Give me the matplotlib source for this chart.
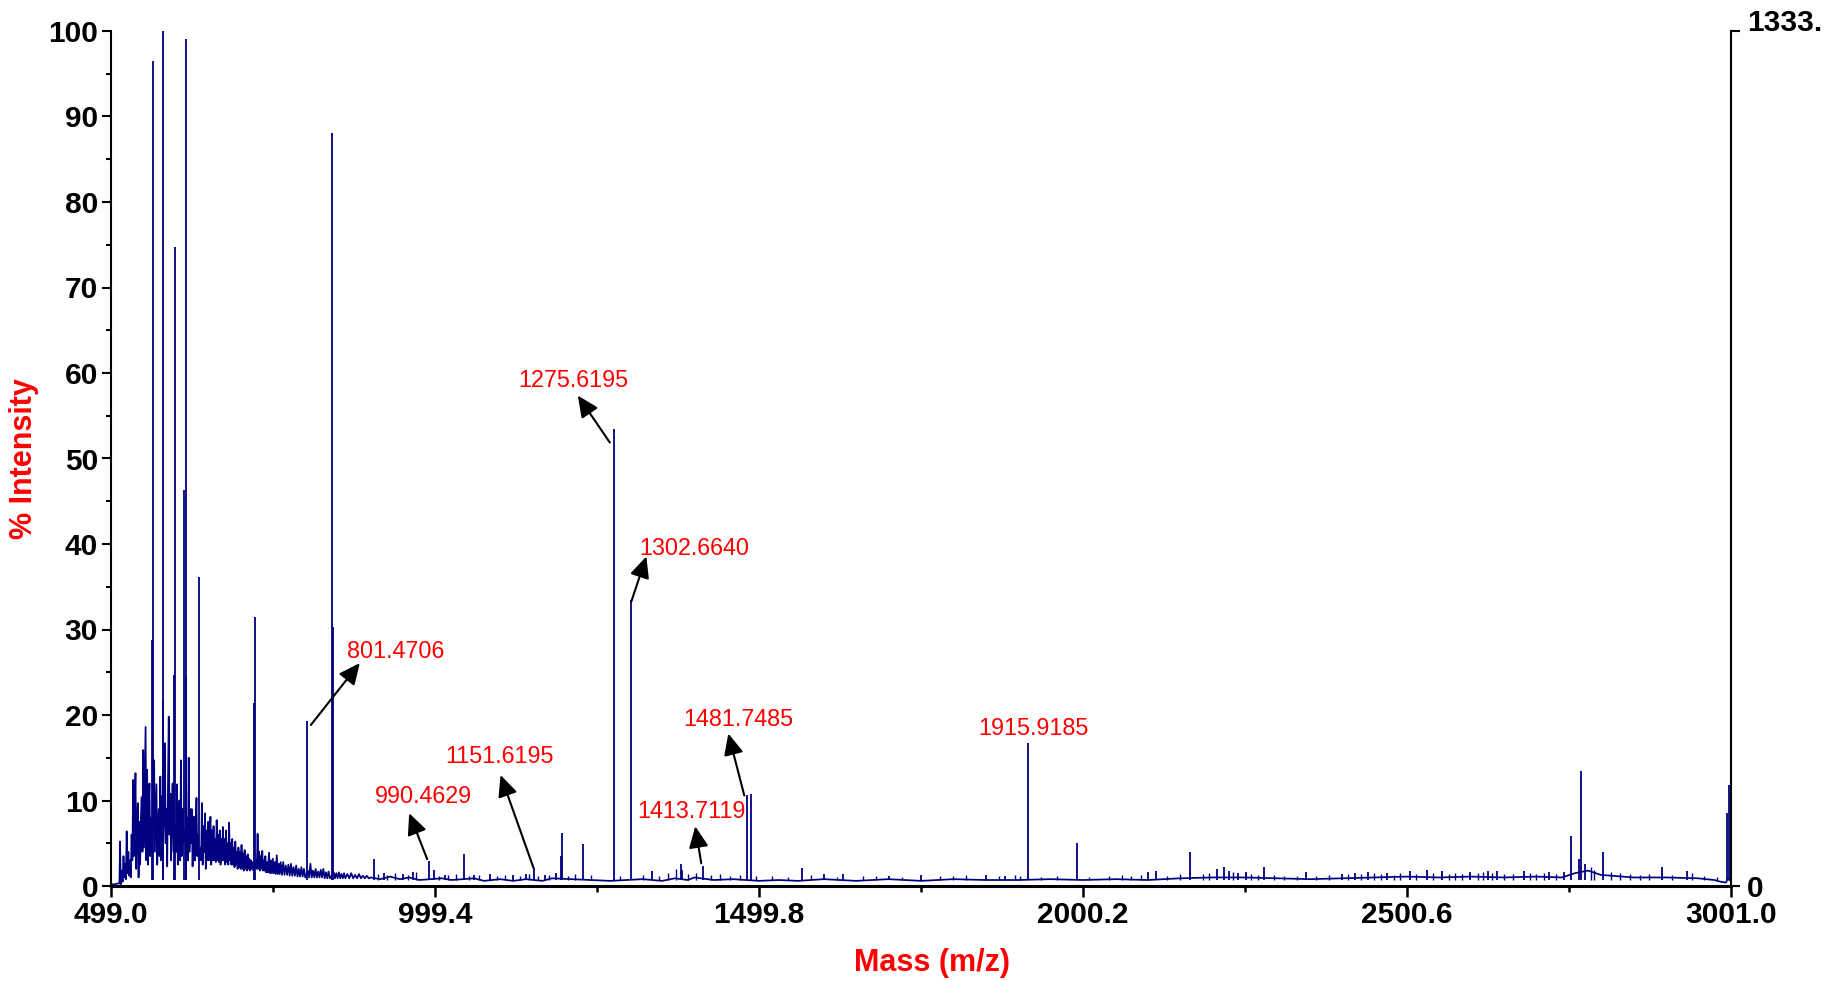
import numpy as np
import matplotlib
matplotlib.use('Agg')
import matplotlib.pyplot as plt
from matplotlib.transforms import offset_copy

plt.rcParams['font.family'] = ['Liberation Sans', 'DejaVu Sans']

# x axis ticks (m/z)
x_major = [499.0, 999.4, 1499.8, 2000.2, 2500.6, 3001.0]
x_labels = ['499.0', '999.4', '1499.8', '2000.2', '2500.6', '3001.0']
x_minor = [749.2, 1249.6, 1750.0, 2250.4, 2750.8]

# dense low-mass noise trace (m/z, % intensity)
noise_mz = [499, 505, 510, 512,
            513.0, 514.0, 515.5, 517.0, 518.3, 519.5, 520.7, 522.0, 523.2, 524.5,
            525.8, 527.0, 528.3, 529.5, 530.8, 532.0, 533.2, 534.4, 535.6, 536.8,
            538.0, 539.2, 540.4, 541.6, 542.8, 544.0, 545.2, 546.4, 547.6, 548.8,
            550.0, 551.2, 552.4, 553.6, 554.8, 556.0, 557.2, 558.4, 559.6, 560.8,
            562.0, 564.4, 565.6, 566.8, 568.0, 569.2, 570.4, 571.6, 572.8, 574.0,
            575.2, 576.4, 577.6, 578.8, 581.0, 582.2, 583.4, 584.6, 585.8, 587.0,
            588.2, 589.4, 590.6, 591.8, 593.0, 594.2, 595.4, 598.6, 599.8, 601.0,
            602.2, 603.4, 604.6, 605.8, 607.0, 608.2, 609.4, 610.6, 616.6, 617.8,
            619.0, 620.2, 621.4, 622.6, 623.8, 625.0, 626.2, 627.4, 628.6, 629.8,
            631.0, 632.2, 633.4, 634.6, 637.0, 638.2, 639.4, 640.6, 641.8, 643.0,
            644.2, 645.4, 646.6, 647.8, 649.0, 650.2, 651.4, 652.6, 653.8, 655.0,
            656.2, 657.4, 658.6, 659.8, 661.0, 662.2, 663.4, 664.6, 665.8, 667.0,
            668.2, 669.4, 670.6, 671.8, 673.0, 674.2, 675.4, 676.6, 677.8, 679.0,
            680.2, 681.4, 682.6, 683.8, 685.0, 686.2, 687.4, 688.6, 689.8, 691.0,
            692.2, 693.4, 694.6, 695.8, 697.0, 698.2, 699.4, 700.6, 701.8, 703.0,
            704.2, 705.4, 706.6, 707.8, 709.0, 710.2, 711.4, 712.6, 713.8, 715.0,
            716.2, 717.4, 718.6, 723.0, 724.2, 725.4, 726.6, 727.8, 729.0, 730.2,
            731.4, 732.6, 733.8, 735.0, 736.2, 737.4, 738.6, 740.0, 741.5, 743.0,
            744.5, 746.0, 747.5, 749.0, 750.5, 752.0, 753.5, 755.0, 756.5, 758.0,
            759.5, 761.0, 763.0, 765.0, 767.0, 769.0, 771.0, 773.0, 775.0, 777.0,
            779.0, 781.0, 783.0, 785.0, 787.0, 789.0, 791.0, 793.0, 795.0, 797.0,
            799.0, 803.0, 805.0, 807.0, 809.0, 811.0, 813.0, 815.0, 817.0, 819.0,
            821.0, 823.0, 825.0, 827.0, 829.0, 831.0, 833.0, 835.0, 837.0, 843.0,
            845.0, 847.0, 849.0, 851.0, 853.0, 855.0, 857.0, 859.0, 861.0, 864.0,
            867.0, 870.0, 873.0, 876.0, 879.0, 882.0, 885.0, 888.0, 891.0, 894.0,
            897.0]
noise_int = [0.2, 0.2, 0.3, 0.3,
             5.2, 0.2, 1.8, 0.5, 3.5, 1.0, 2.6, 0.8, 6.4, 1.5,
             4.0, 1.2, 3.0, 1.0, 6.0, 3.0, 12.4, 3.5, 9.0, 13.2,
             2.0, 7.0, 9.7, 1.0, 7.5, 2.5, 8.0, 10.4, 4.0, 15.9,
             4.5, 12.0, 18.6, 3.0, 13.6, 2.5, 9.0, 12.0, 3.5, 8.0,
             4.0, 9.0, 14.7, 4.0, 8.0, 11.9, 2.5, 7.0, 9.0, 3.5,
             12.8, 3.0, 10.5, 4.0, 8.0, 16.7, 5.0, 9.0, 2.3, 12.0,
             19.8, 6.0, 10.8, 3.0, 9.0, 12.0, 4.0, 7.0, 4.0, 11.9,
             2.5, 8.0, 10.0, 3.0, 14.7, 3.5, 9.0, 5.0, 8.0, 3.0,
             15.0, 4.0, 9.0, 5.0, 9.0, 2.3, 6.0, 8.1, 3.0, 7.0,
             10.3, 3.5, 6.0, 3.0, 4.5, 3.0, 9.7, 2.5, 7.0, 4.0,
             8.5, 2.0, 6.5, 3.0, 7.5, 3.0, 6.0, 8.1, 2.5, 6.5,
             3.0, 7.0, 3.0, 5.5, 2.8, 7.7, 3.0, 6.0, 2.8, 6.5,
             2.5, 5.5, 3.0, 6.9, 3.0, 5.5, 2.5, 6.5, 2.8, 5.0,
             2.5, 7.4, 3.0, 5.0, 2.5, 5.5, 2.5, 4.5, 2.2, 5.2,
             2.5, 4.0, 2.0, 4.5, 2.2, 4.0, 2.0, 4.8, 2.0, 3.8,
             1.8, 4.2, 2.0, 3.5, 1.8, 3.7, 2.0, 3.2, 1.8, 3.0,
             2.0, 2.8, 1.8, 3.0, 2.0, 6.1, 2.0, 4.0, 1.8, 3.5,
             2.0, 4.1, 1.8, 3.0, 1.8, 3.5, 1.6, 2.8, 1.6, 3.9,
             1.5, 3.0, 1.5, 3.2, 1.5, 2.8, 1.4, 3.6, 1.4, 2.6,
             1.4, 2.8, 1.3, 2.8, 1.3, 2.4, 1.3, 2.5, 1.2, 2.6,
             1.2, 2.2, 1.2, 2.4, 1.1, 2.0, 1.1, 2.2, 1.1, 2.0,
             1.0, 1.8, 1.0, 2.6, 1.0, 1.8, 1.0, 2.0, 1.0, 1.7,
             1.0, 1.9, 1.0, 2.0, 0.9, 1.6, 0.9, 1.7, 0.9, 1.6,
             0.9, 1.5, 0.9, 1.6, 0.9, 1.4, 0.9, 1.5, 0.9, 1.4,
             0.9, 1.5, 0.9, 1.3, 0.9, 1.4, 0.9, 1.2, 0.9, 1.2,
             0.9]

# baseline above 900 m/z
base_mz = [900, 915, 930, 945, 960, 975, 1010, 1025, 1060, 1075, 1100, 1120, 1140,
           1165, 1180, 1240, 1270, 1320, 1350, 1370, 1390, 1400, 1430, 1460, 1500,
           1530, 1560, 1600, 1650, 1700, 1750, 1800, 1850, 1900, 1950, 2000, 2050,
           2100, 2150, 2200, 2250, 2300, 2350, 2400, 2450, 2500, 2550, 2600, 2650,
           2700, 2740, 2760, 2780, 2800, 2850, 2900, 2950, 2975, 2985, 2993, 2996, 3001]
base_int = [1.0, 0.8, 1.1, 0.8, 1.0, 0.7, 0.9, 0.7, 0.9, 0.6, 0.8, 0.6, 0.8,
            0.6, 0.9, 0.7, 0.6, 0.8, 0.6, 0.9, 0.7, 1.0, 0.7, 0.8, 0.6,
            0.7, 0.6, 0.8, 0.6, 0.8, 0.6, 0.8, 0.7, 0.7, 0.8, 0.7, 0.8,
            0.7, 0.9, 1.0, 1.0, 0.9, 0.8, 0.9, 1.0, 1.1, 1.0, 1.1, 1.0,
            1.1, 1.0, 1.5, 1.8, 1.3, 1.0, 1.0, 0.9, 0.7, 0.5, 0.4, 0.8, 0.6]

# unlabelled peaks
peak_mz = [561.7, 563.2, 578.6, 579.7, 596.0, 597.1, 612.0, 614.1, 615.5, 635.6,
           720.3, 721.4, 840.6, 841.8, 905, 920, 950, 965, 998.3, 1015, 1044.7,
           1060, 1085, 1120, 1140, 1170, 1187, 1194.5, 1196, 1227.5, 1334.8,
           1378.6, 1381, 1487.9, 1566, 1600, 1630, 1700, 1750, 1850, 1880, 1990.8,
           2100, 2113, 2166, 2207, 2218, 2225, 2240, 2252, 2280, 2344, 2400, 2420,
           2440, 2470, 2506, 2531.7, 2555, 2598, 2626, 2640, 2680.7, 2720, 2743,
           2753.6, 2767, 2770.1, 2775, 2803, 2895, 2932.5, 2995.5, 2997.5]
peak_int = [28.8, 96.5, 21.8, 100.0, 24.7, 74.7, 46.3, 99.1, 24.5, 36.1,
            21.4, 31.5, 88.1, 30.3, 3.2, 1.5, 1.4, 1.6, 1.9, 1.3, 3.8,
            1.3, 1.4, 1.3, 1.4, 1.3, 1.5, 3.5, 6.2, 4.9, 1.7,
            2.6, 1.9, 10.8, 2.1, 1.4, 1.4, 1.2, 1.3, 1.3, 1.2, 5.0,
            1.6, 1.7, 4.0, 2.0, 2.2, 1.8, 1.5, 1.6, 2.2, 1.6, 1.4, 1.5,
            1.6, 1.5, 1.7, 1.9, 1.8, 1.6, 1.8, 1.7, 1.8, 1.6, 1.6,
            5.9, 3.2, 13.4, 2.6, 4.0, 2.2, 1.7, 8.5, 11.8]

# small spikes along the baseline
grass_mz = [912, 925, 937, 958, 970, 1005, 1020, 1032, 1052, 1068, 1095, 1108,
            1130, 1145, 1158, 1176, 1205, 1215, 1240, 1285, 1320, 1345, 1360, 1372,
            1390, 1402, 1425, 1440, 1455, 1470, 1495, 1520, 1545, 1580, 1620, 1660,
            1680, 1720, 1780, 1800, 1820, 1870, 1895, 1903, 1935, 1960, 2010, 2040,
            2060, 2075, 2090, 2130, 2150, 2185, 2195, 2232, 2260, 2270, 2295, 2310,
            2330, 2360, 2380, 2410, 2430, 2450, 2460, 2480, 2490, 2515, 2540, 2565,
            2575, 2585, 2610, 2618, 2632, 2650, 2665, 2690, 2700, 2712, 2730, 2785,
            2790, 2815, 2830, 2845, 2860, 2875, 2910, 2940, 2960, 2980]
grass_int = [1.4, 1.3, 1.5, 1.3, 1.6, 1.2, 1.3, 1.4, 1.2, 1.3, 1.2, 1.3,
             1.2, 1.4, 1.2, 1.3, 1.2, 1.4, 1.3, 1.2, 1.3, 1.2, 1.5, 2.0,
             1.4, 1.5, 1.3, 1.4, 1.2, 1.3, 1.2, 1.2, 1.1, 1.3, 1.1, 1.2,
             1.2, 1.1, 1.2, 1.2, 1.3, 1.2, 1.3, 1.2, 1.1, 1.2, 1.1, 1.2,
             1.3, 1.2, 1.3, 1.2, 1.4, 1.4, 1.5, 1.6, 1.4, 1.3, 1.3, 1.2,
             1.2, 1.2, 1.3, 1.4, 1.4, 1.5, 1.4, 1.3, 1.5, 1.4, 1.5, 1.4,
             1.5, 1.4, 1.5, 1.6, 1.5, 1.4, 1.4, 1.5, 1.4, 1.5, 1.4, 2.2,
             1.9, 1.6, 1.5, 1.4, 1.3, 1.4, 1.3, 1.5, 1.2, 1.1]

# annotated peaks
label_mz = [801.4706, 990.4629, 1151.6195, 1275.6195, 1302.6640, 1413.7119,
            1481.7485, 1915.9185]
label_int = [19.3, 2.9, 2.1, 53.5, 33.4, 2.3, 10.7, 16.7]

# label / arrow placement in pixels from each peak top: text, arrow tail, arrow head
text_off = [(89, 63), (-6, 58), (-34, 105), (-41, 42), (63, 45), (-12, 48), (-9, 69), (5, 8)]
tail_off = [(4, -4), (-2, 2), (0, 0), (-4, -14), (0, -1), (-2, 3), (-3, -1), None]
head_off = [(53, 58), (-20, 48), (-33, 93), (-36, 33), (15, 44), (-8, 40), (-19, 61), None]

line_col = '#000080'
red = '#ff0000'

fig = plt.figure(figsize=(18.38, 9.81), dpi=100)
ax = fig.add_axes([111 / 1838, 1 - 886 / 981, 1620 / 1838, 855 / 981])

ax.plot(noise_mz + base_mz, noise_int + base_int, color=line_col, lw=1.25)
ax.vlines(grass_mz, 0.75, grass_int, color=line_col, lw=1.0)
ax.vlines(peak_mz, 0.7, peak_int, color=line_col, lw=1.3)
ax.vlines(label_mz, 0.7, label_int, color=line_col, lw=1.3)

ax.set_xlim(499.0, 3001.0)
ax.set_ylim(0, 100)

ax.set_xticks(x_major)
ax.set_xticklabels(x_labels)
ax.set_xticks(x_minor, minor=True)
ax.set_yticks(np.arange(0, 101, 10))
ax.set_yticks(np.arange(5, 100, 10), minor=True)

for s in ['top', 'right']:
    ax.spines[s].set_visible(False)
ax.spines['left'].set_linewidth(1.5)
ax.spines['bottom'].set_linewidth(2.2)

ax.tick_params(axis='y', which='major', length=6.3, width=1.5, pad=3,
               labelsize=21.5)
ax.tick_params(axis='y', which='minor', length=3.6, width=1.5)
ax.tick_params(axis='x', which='major', length=8.0, width=1.8, pad=2.5,
               labelsize=21.5)
ax.tick_params(axis='x', which='minor', length=4.5, width=1.8)
for t in ax.get_xticklabels() + ax.get_yticklabels():
    t.set_fontweight('bold')

ax.set_xlabel('Mass (m/z)', color=red, fontsize=22, fontweight='bold')
ax.xaxis.set_label_coords(0.5068, -0.072)
ax.set_ylabel('% Intensity', color=red, fontsize=22, fontweight='bold')
ax.yaxis.set_label_coords(-0.0444, 0.5)

# right-hand absolute intensity axis
ax2 = ax.twinx()
ax2.set_ylim(0, 100)
ax2.set_yticks([0, 100])
ax2.set_yticklabels(['0', '1333.'])
for s in ['top', 'left', 'bottom']:
    ax2.spines[s].set_visible(False)
ax2.spines['right'].set_linewidth(1.5)
ax2.tick_params(axis='y', length=6.3, width=1.5, pad=5, labelsize=21.5)
for t in ax2.get_yticklabels():
    t.set_fontweight('bold')
ax2.get_yticklabels()[1].set_verticalalignment('baseline')

# peak annotations
for i in range(len(label_mz)):
    mz, h = label_mz[i], label_int[i]
    ax.annotate(f'{mz:.4f}', xy=(mz, h), xytext=text_off[i],
                textcoords='offset pixels', ha='center', va='baseline',
                color=red, fontsize=16.8)
    if tail_off[i] is not None:
        head_tr = offset_copy(ax.transData, fig=fig, x=head_off[i][0],
                              y=head_off[i][1], units='dots')
        tail_tr = offset_copy(ax.transData, fig=fig, x=tail_off[i][0],
                              y=tail_off[i][1], units='dots')
        ax.annotate('', xy=(mz, h), xycoords=head_tr, xytext=(mz, h),
                    textcoords=tail_tr,
                    arrowprops=dict(arrowstyle='-|>,head_length=0.65,head_width=0.3',
                                    mutation_scale=20, color='black', lw=1.5,
                                    shrinkA=0, shrinkB=0))

fig.savefig('out.png', dpi=100)
